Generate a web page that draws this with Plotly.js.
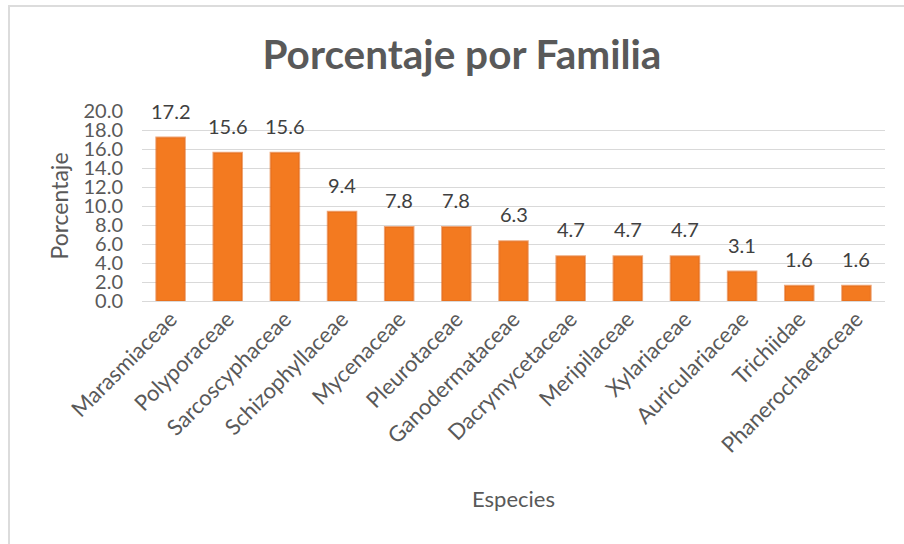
<!DOCTYPE html>
<html>
<head>
<meta charset="utf-8">
<script src="https://cdn.plot.ly/plotly-3.0.1.min.js"></script>
<style>
html,body{margin:0;padding:0;background:#fff;}
#frame{position:absolute;left:8px;top:5px;width:1000px;height:1000px;border-left:2px solid #dcdcdc;border-top:2px solid #dcdcdc;}
#chart{position:absolute;left:0;top:0;width:904px;height:544px;}
</style>
</head>
<body>
<div id="frame"></div>
<div id="chart"></div>
<script>
const families = ["Marasmiaceae","Polyporaceae","Sarcoscyphaceae","Schizophyllaceae","Mycenaceae","Pleurotaceae","Ganodermataceae","Dacrymycetaceae","Meripilaceae","Xylariaceae","Auriculariaceae","Trichiidae","Phanerochaetaceae"];
const percentages = [17.2,15.6,15.6,9.4,7.8,7.8,6.3,4.7,4.7,4.7,3.1,1.6,1.6];
const yTicks = [0,2,4,6,8,10,12,14,16,18,20];
const yTickLabels = yTicks.map(v => v.toFixed(1));

const fontFam = "Lato, 'Open Sans', sans-serif";
const gray = "#595959";

const trace = {
  type: "bar",
  x: families,
  y: percentages,
  marker: {color: "#F37A20", line: {color: "rgba(226,106,28,0.6)", width: 2}},
  hoverinfo: "x+y"
};

const annotations = families.map((f, i) => ({
  x: f, y: percentages[i], xref: "x", yref: "y",
  text: percentages[i].toFixed(1), showarrow: false,
  yshift: 27, font: {family: fontFam, size: 20, color: "#404040"}
}));

const layout = {
  width: 904, height: 544,
  paper_bgcolor: "rgba(0,0,0,0)", plot_bgcolor: "rgba(0,0,0,0)",
  margin: {l: 142, r: 19, t: 111, b: 243},
  title: {text: "<b>Porcentaje por Familia</b>", x: 0.511, xanchor: "center", y: 0.899, yanchor: "middle",
          font: {family: fontFam, size: 40.5, color: gray}},
  bargap: 0.5,
  showlegend: false,
  xaxis: {
    type: "category", tickangle: -45, showgrid: false, showline: false, ticks: "",
    tickfont: {family: fontFam, size: 22, color: gray},
    title: {text: "Especies", standoff: 34, font: {family: fontFam, size: 22, color: gray}}
  },
  yaxis: {
    range: [0, 20], tickvals: yTicks, ticktext: yTickLabels,
    showgrid: true, gridcolor: "#d9d9d9", gridwidth: 1, zeroline: true, zerolinecolor: "#d9d9d9",
    showline: false, ticks: "", ticklabelstandoff: 18,
    tickfont: {family: fontFam, size: 20, color: gray},
    title: {text: "Porcentaje", standoff: 8, font: {family: fontFam, size: 23, color: gray}}
  },
  annotations: annotations
};

Plotly.newPlot("chart", [trace], layout, {displayModeBar: false, staticPlot: true});
</script>
</body>
</html>
